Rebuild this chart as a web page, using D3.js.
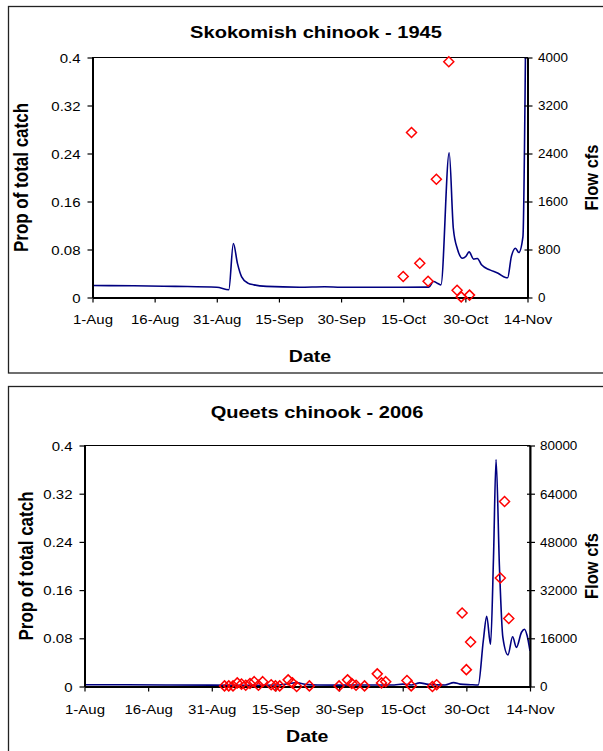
<!DOCTYPE html>
<html>
<head>
<meta charset="utf-8">
<script src="https://cdn.jsdelivr.net/npm/d3@7"></script>
<style>
html,body{margin:0;padding:0;background:#fff;}
svg{display:block;}
text{font-family:"Liberation Sans",Arial,sans-serif;fill:#000;}
</style>
</head>
<body>
<svg id="chart" width="603" height="751"></svg>
<script>
// ---------- data ----------
const dateTickDays = [0, 15, 30, 45, 60, 75, 90, 105];
const dateTickLabels = ["1-Aug", "16-Aug", "31-Aug", "15-Sep", "30-Sep", "15-Oct", "30-Oct", "14-Nov"];
const propTicks = [0, 0.08, 0.16, 0.24, 0.32, 0.4];
const propTickLabels = ["0", "0.08", "0.16", "0.24", "0.32", "0.4"];

const skokTitle = "Skokomish chinook - 1945";
const skokFlowTicks = [0, 800, 1600, 2400, 3200, 4000];
const skokCatchDays = [75, 77, 79, 81, 83, 86, 88, 89, 91];
const skokCatchProp = [0.035, 0.275, 0.057, 0.027, 0.197, 0.393, 0.012, 0.001, 0.004];
const skokFlowDays = [0, 10, 20, 30, 32.9, 34, 35, 36, 37.5, 39, 42, 50, 56, 60, 70, 81.2, 82.3, 83.5, 84.1, 86.1, 87.1, 88.1, 89.3, 90.1, 90.9, 92, 92.9, 93.9, 95.9, 97.9, 99.7, 100.2, 101.1, 102.1, 102.9, 103.9, 104.5];
const skokFlowCfs = [200, 195, 185, 172, 130, 900, 565, 345, 240, 210, 185, 172, 180, 172, 170, 173, 266, 228, 211, 2413, 1150, 805, 655, 683, 760, 640, 650, 544, 461, 405, 333, 330, 682, 822, 749, 1015, 4000];

const queetsTitle = "Queets chinook - 2006";
const queetsFlowTicks = [0, 16000, 32000, 48000, 64000, 80000];
const queetsCatchDays = [33, 34, 35, 36, 37, 38, 39, 40, 41, 42, 44, 45, 46, 48, 49, 50, 53, 60, 62, 63, 64, 66, 69, 70, 71, 76, 77, 82, 83, 89, 90, 91, 98, 99, 100];
const queetsCatchProp = [0.001, 0.001, 0.001, 0.006, 0.004, 0.002, 0.005, 0.008, 0.002, 0.008, 0.003, 0.001, 0.001, 0.011, 0.006, 0.0, 0.001, 0.001, 0.011, 0.005, 0.002, 0.001, 0.021, 0.006, 0.008, 0.01, 0.001, 0.0, 0.003, 0.122, 0.028, 0.074, 0.18, 0.307, 0.113];
const queetsFlowDays = [0, 10, 20, 30, 40, 45, 48, 50, 52, 55, 60, 65, 70, 73, 75, 77, 79, 81, 85, 87, 88.5, 91, 92.8, 94.0, 94.8, 95.7, 96.4, 97.0, 97.8, 98.6, 99.8, 100.9, 101.8, 103.0, 103.7, 104.3, 105];
const queetsFlowCfs = [600, 560, 500, 450, 420, 500, 900, 1300, 700, 500, 450, 500, 500, 500, 800, 500, 1200, 700, 500, 1300, 800, 600, 500, 15270, 23300, 13950, 42920, 75300, 39600, 16370, 10500, 16500, 13000, 18000, 19000, 17000, 11800];

// ---------- drawing ----------
const svg = d3.select("#chart");
const FONT = '"Liberation Sans",Arial,sans-serif';

function stretchText(g, x, y, sx, str, opts) {
  return g.append("text")
    .attr("transform", `translate(${x},${y}) scale(${sx},1)`)
    .attr("text-anchor", opts.anchor || "middle")
    .style("font-size", opts.size + "px")
    .style("font-weight", opts.weight || "normal")
    .text(str);
}

function drawChart(cfg) {
  const g = svg.append("g");
  g.append("rect")
    .attr("x", cfg.box.x).attr("y", cfg.box.y)
    .attr("width", cfg.box.w).attr("height", cfg.box.h)
    .attr("fill", "none").attr("stroke", "#222").attr("stroke-width", 1.3);

  const p = cfg.plot;
  const x = d3.scaleLinear().domain([0, 105]).range([p.left, p.right]);
  const yL = d3.scaleLinear().domain([0, 0.4]).range([p.bottom, p.top]);
  const yR = d3.scaleLinear().domain([0, cfg.flowTicks[cfg.flowTicks.length - 1]]).range([p.bottom, p.top]);

  g.append("rect")
    .attr("x", p.left).attr("y", p.top)
    .attr("width", p.right - p.left).attr("height", p.bottom - p.top)
    .attr("fill", "#fff").attr("stroke", "#000").attr("stroke-width", 1);

  const clipId = "clip" + cfg.id;
  svg.append("clipPath").attr("id", clipId).append("rect")
    .attr("x", p.left).attr("y", p.top - 1)
    .attr("width", p.right - p.left).attr("height", p.bottom - p.top + 1);

  const flow = cfg.flowDays.map((d, i) => [d, cfg.flowCfs[i]]);
  g.append("path")
    .datum(flow)
    .attr("clip-path", `url(#${clipId})`)
    .attr("fill", "none").attr("stroke", "#000080").attr("stroke-width", 1.6)
    .attr("stroke-linejoin", "round")
    .attr("d", d3.line().x(d => x(d[0])).y(d => yR(d[1])).curve(d3.curveMonotoneX));

  const axL = g.append("g").attr("transform", `translate(${p.left},0)`)
    .call(d3.axisLeft(yL).tickValues(propTicks).tickFormat((d, i) => propTickLabels[i]).tickSize(5).tickSizeOuter(0));
  axL.select(".domain").attr("stroke", "#000").attr("stroke-width", 2);
  axL.selectAll(".tick line").attr("stroke", "#000").attr("stroke-width", 1.2);
  axL.selectAll(".tick text")
    .attr("x", -12 / 1.2).attr("dy", "0.36em")
    .attr("transform", "scale(1.2,1)")
    .style("font-size", "12.5px").style("font-family", FONT);

  const axR = g.append("g").attr("transform", `translate(${p.right},0)`)
    .call(d3.axisRight(yR).tickValues(cfg.flowTicks).tickFormat(d3.format("d")).tickSize(5).tickSizeOuter(0));
  axR.select(".domain").attr("stroke", "#000").attr("stroke-width", 2);
  axR.selectAll(".tick line").attr("x1", -3).attr("stroke", "#000").attr("stroke-width", 1.2);
  axR.selectAll(".tick text")
    .attr("x", cfg.rightLabelOffset / 1.12).attr("dy", "0.36em")
    .attr("transform", "scale(1.12,1)")
    .style("font-size", "12px").style("font-family", FONT);

  const axB = g.append("g").attr("transform", `translate(0,${p.bottom})`)
    .call(d3.axisBottom(x).tickValues(dateTickDays).tickFormat((d, i) => dateTickLabels[i]).tickSize(5).tickSizeOuter(0));
  axB.select(".domain").attr("stroke", "#000").attr("stroke-width", 2);
  axB.selectAll(".tick line").attr("stroke", "#000").attr("stroke-width", 1.2);
  axB.selectAll(".tick text")
    .attr("y", cfg.xLabelDy).attr("dy", 0)
    .attr("transform", "scale(1.2,1)")
    .attr("x", 0)
    .style("font-size", "12.5px").style("font-family", FONT);

  const catchPts = cfg.catchDays.map((d, i) => [d, cfg.catchProp[i]]);
  g.append("g").selectAll("path")
    .data(catchPts).join("path")
    .attr("transform", d => `translate(${x(d[0])},${yL(d[1])})`)
    .attr("d", "M0,-5L5,0L0,5L-5,0Z")
    .attr("fill", "none").attr("stroke", "#ff0000").attr("stroke-width", 1.5);

  stretchText(g, cfg.titleX, cfg.titleY, 1.18, cfg.title, {size: 17, weight: "bold"});
  stretchText(g, (p.left + p.right) / 2, cfg.dateY, 1.15, "Date", {size: 17, weight: "bold"});

  g.append("text")
    .attr("transform", `translate(${cfg.leftTitleX},${(p.top + p.bottom) / 2}) rotate(-90) scale(1,1.15)`)
    .attr("text-anchor", "middle")
    .style("font-size", "17px").style("font-weight", "bold")
    .text("Prop of total catch");

  g.append("text")
    .attr("transform", `translate(${cfg.rightTitleX},${(p.top + p.bottom) / 2}) rotate(-90) scale(1,1.15)`)
    .attr("text-anchor", "middle")
    .style("font-size", "16.5px").style("font-weight", "bold")
    .text("Flow cfs");
}

drawChart({
  id: "a",
  box: {x: 8.5, y: 6.5, w: 620, h: 366.5},
  plot: {left: 92.5, right: 527.5, top: 57.5, bottom: 297.5},
  title: skokTitle, titleX: 316, titleY: 38,
  dateY: 362, leftTitleX: 28, rightTitleX: 598, xLabelDy: 27, rightLabelOffset: 10.5,
  flowTicks: skokFlowTicks,
  flowDays: skokFlowDays, flowCfs: skokFlowCfs,
  catchDays: skokCatchDays, catchProp: skokCatchProp
});

drawChart({
  id: "b",
  box: {x: 8.5, y: 386.5, w: 620, h: 400},
  plot: {left: 84.5, right: 530, top: 445.5, bottom: 686.5},
  title: queetsTitle, titleX: 317, titleY: 418,
  dateY: 742, leftTitleX: 33, rightTitleX: 598, xLabelDy: 28, rightLabelOffset: 10,
  flowTicks: queetsFlowTicks,
  flowDays: queetsFlowDays, flowCfs: queetsFlowCfs,
  catchDays: queetsCatchDays, catchProp: queetsCatchProp
});
</script>
</body>
</html>
